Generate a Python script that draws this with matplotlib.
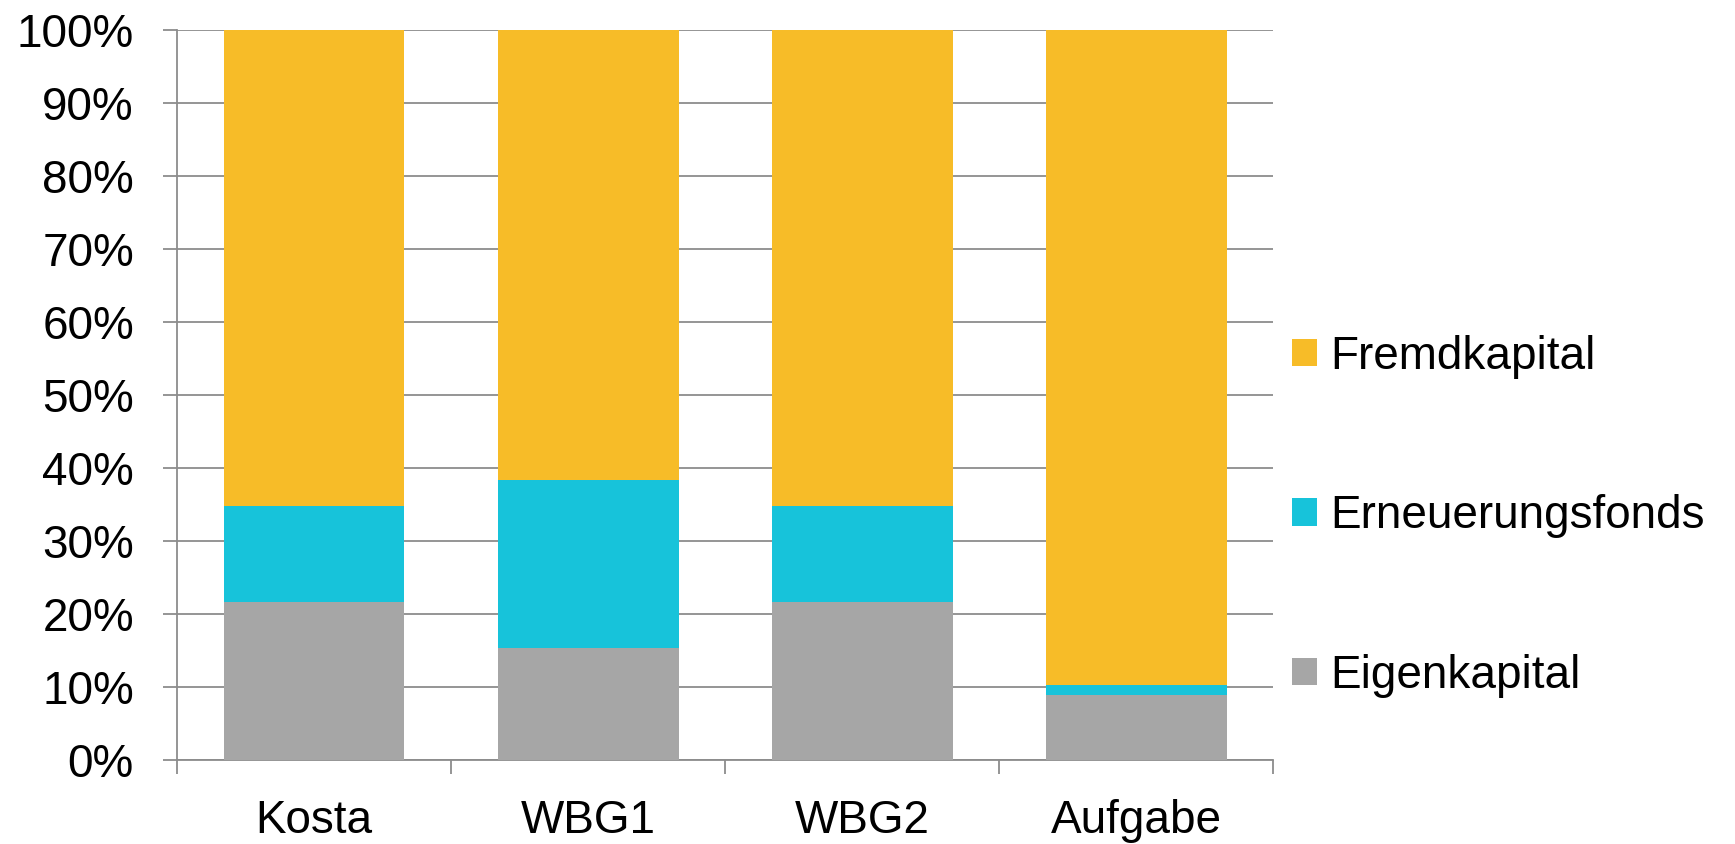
import matplotlib.pyplot as plt
import numpy as np
from matplotlib.ticker import FuncFormatter, FixedLocator

plt.rcParams['font.family'] = ['Liberation Sans', 'DejaVu Sans']

kategorien = ['Kosta', 'WBG1', 'WBG2', 'Aufgabe']
eigenkapital = [21.7, 15.4, 21.7, 8.9]
erneuerungsfonds = [13.1, 23.0, 13.1, 1.35]
fremdkapital = [100 - e - f for e, f in zip(eigenkapital, erneuerungsfonds)]

farbe_eigen = '#A6A6A6'
farbe_erneu = '#17C3DA'
farbe_fremd = '#F7BC28'
grau = '#8C8C8C'

fig = plt.figure(figsize=(17.35, 8.44), dpi=100)
ax = fig.add_axes([0.102, 0.0995, 0.632, 0.865])

x = np.arange(len(kategorien))
breite = 0.66
b1 = ax.bar(x, eigenkapital, breite, color=farbe_eigen, label='Eigenkapital', zorder=3)
b2 = ax.bar(x, erneuerungsfonds, breite, bottom=eigenkapital, color=farbe_erneu,
            label='Erneuerungsfonds', zorder=3)
unten = np.array(eigenkapital) + np.array(erneuerungsfonds)
b3 = ax.bar(x, fremdkapital, breite, bottom=unten, color=farbe_fremd,
            label='Fremdkapital', zorder=3)

ax.set_xlim(-0.5, len(kategorien) - 0.5)
ax.set_ylim(0, 100)
ax.set_yticks(np.arange(0, 101, 10))
ax.yaxis.set_major_formatter(FuncFormatter(lambda v, p: f'{v:.0f}%'))
ax.yaxis.grid(True, color=grau, linewidth=1.3, zorder=0)

ax.set_xticks(x)
ax.set_xticklabels(kategorien)
ax.xaxis.set_minor_locator(FixedLocator(np.arange(-0.5, len(kategorien), 1.0)))
ax.tick_params(axis='x', which='major', length=0, pad=28, labelsize=33)
ax.tick_params(axis='x', which='minor', length=10, width=1.3, color=grau)
ax.tick_params(axis='y', length=10, width=1.3, color=grau, pad=21, labelsize=33)

for s in ['top', 'right']:
    ax.spines[s].set_visible(False)
for s in ['left', 'bottom']:
    ax.spines[s].set_color(grau)
    ax.spines[s].set_linewidth(1.3)

ax.legend(handles=[b3, b2, b1], loc='center left', bbox_to_anchor=(1.0, 0.334),
          frameon=False, fontsize=33, handlelength=0.55, handleheight=0.55,
          handletextpad=0.28, labelspacing=2.52, borderaxespad=0)

fig.savefig('out.png', dpi=100)
